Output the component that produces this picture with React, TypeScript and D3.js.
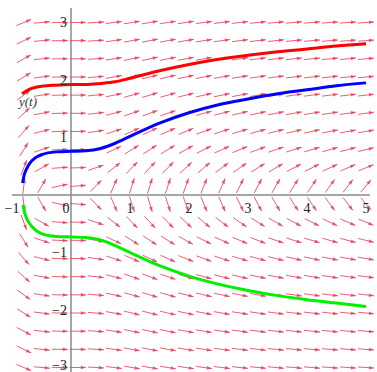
import { useEffect, useRef } from 'react'
import * as d3 from 'd3'

// solution curves: [t, y]
const redCurve: [number, number][] = [
  [-0.83, 1.76], [-0.7, 1.84], [-0.5, 1.89], [-0.25, 1.91], [0, 1.92], [0.25, 1.92],
  [0.5, 1.94], [0.75, 1.97], [1, 2.03], [1.5, 2.16], [2, 2.27], [2.5, 2.36],
  [3, 2.43], [3.5, 2.49], [4, 2.54], [4.5, 2.59], [5, 2.63],
]
const blueCurve: [number, number][] = [
  [-0.82, 0.21], [-0.8, 0.32], [-0.75, 0.46], [-0.7, 0.55], [-0.6, 0.65], [-0.5, 0.7],
  [-0.25, 0.75], [0, 0.76], [0.25, 0.77], [0.5, 0.81], [0.75, 0.9], [1, 1.02],
  [1.5, 1.25], [2, 1.43], [2.5, 1.57], [3, 1.67], [3.5, 1.76], [4, 1.83],
  [4.5, 1.9], [5, 1.95],
]
const greenCurve: [number, number][] = [
  [-0.81, -0.17], [-0.8, -0.24], [-0.75, -0.41], [-0.7, -0.5], [-0.6, -0.61], [-0.5, -0.67],
  [-0.25, -0.72], [0, -0.73], [0.25, -0.74], [0.5, -0.78], [0.75, -0.88], [1, -1.0],
  [1.5, -1.23], [2, -1.41], [2.5, -1.55], [3, -1.66], [3.5, -1.75], [4, -1.82],
  [4.5, -1.88], [5, -1.94],
]

const xTicks = [-1, 0, 1, 2, 3, 4, 5]
const yTicks = [-3, -2, -1, 0, 1, 2, 3]

// direction field of y' = t^2 / (y (1 + t^3)), arrows on a 20 x 20 grid
const fieldT = [-0.8, 5]
const fieldY = [-3, 3]
const gridN = 20
const slope = (t: number, y: number) => (t * t) / (y * (1 + t * t * t))

const W = 377
const H = 372

export default function App() {
  const svgRef = useRef<SVGSVGElement>(null)

  useEffect(() => {
    if (!svgRef.current) return
    const svg = d3.select(svgRef.current)
    svg.selectAll('*').remove()

    const x = d3.scaleLinear().domain([-1, 5]).range([12, 366])
    const y = d3.scaleLinear().domain([-3, 3]).range([367.5, 22.5])

    // axes
    svg.append('line')
      .attr('x1', x(-1)).attr('x2', 370)
      .attr('y1', y(0)).attr('y2', y(0))
      .attr('stroke', '#8a8a8a').attr('stroke-width', 1.5)
    svg.append('line')
      .attr('x1', x(0)).attr('x2', x(0))
      .attr('y1', 8).attr('y2', H)
      .attr('stroke', '#8a8a8a').attr('stroke-width', 1.5)

    // arrows
    const arrowLen = 16
    const fieldG = svg.append('g')
    for (let i = 0; i < gridN; i++) {
      const t = fieldT[0] + (i * (fieldT[1] - fieldT[0])) / (gridN - 1)
      for (let j = 0; j < gridN; j++) {
        const yy = fieldY[0] + (j * (fieldY[1] - fieldY[0])) / (gridN - 1)
        const s = slope(t, yy)
        const dx = x(1) - x(0)
        const dy = y(s) - y(0)
        const len = Math.hypot(dx, dy)
        const ux = dx / len
        const uy = dy / len
        const cx = x(t)
        const cy = y(yy)
        const x1 = cx - (ux * arrowLen) / 2
        const y1 = cy - (uy * arrowLen) / 2
        const x2 = cx + (ux * arrowLen) / 2
        const y2 = cy + (uy * arrowLen) / 2
        fieldG.append('line')
          .attr('x1', x1).attr('y1', y1).attr('x2', x2).attr('y2', y2)
          .attr('stroke', '#e8425a').attr('stroke-width', 1)
          .attr('stroke-opacity', 0.85)
        const hl = 5
        const hw = 1.8
        const bx = x2 - ux * hl
        const by = y2 - uy * hl
        fieldG.append('path')
          .attr('d', `M${x2},${y2}L${bx - uy * hw},${by + ux * hw}L${bx + uy * hw},${by - ux * hw}Z`)
          .attr('fill', '#e8425a').attr('fill-opacity', 0.85)
      }
    }

    // solution curves
    const line = d3.line<[number, number]>()
      .x(d => x(d[0]))
      .y(d => y(d[1]))
      .curve(d3.curveMonotoneX)
    const curves: [[number, number][], string][] = [
      [redCurve, '#ff0000'],
      [blueCurve, '#0000ff'],
      [greenCurve, '#00f000'],
    ]
    curves.forEach(([data, color]) => {
      svg.append('path')
        .datum(data)
        .attr('d', line)
        .attr('fill', 'none')
        .attr('stroke', color)
        .attr('stroke-width', 3)
    })

    // tick labels
    const font = '"Liberation Serif", "DejaVu Serif", serif'
    xTicks.forEach(v => {
      svg.append('text')
        .attr('x', v === 0 ? x(0) - 5 : x(v))
        .attr('y', y(0) + 18)
        .attr('text-anchor', 'middle')
        .attr('font-family', font)
        .attr('font-size', 14)
        .attr('fill', '#222')
        .text(v < 0 ? `\u2212${-v}` : `${v}`)
    })
    yTicks.filter(v => v !== 0).forEach(v => {
      svg.append('text')
        .attr('x', x(0) - 4)
        .attr('y', v === -3 ? y(v) - 2 : y(v))
        .attr('dy', '0.35em')
        .attr('text-anchor', 'end')
        .attr('font-family', font)
        .attr('font-size', 14)
        .attr('fill', '#222')
        .text(v < 0 ? `\u2212${-v}` : `${v}`)
    })

    svg.append('text')
      .attr('x', 19)
      .attr('y', 106)
      .attr('font-family', font)
      .attr('font-style', 'italic')
      .attr('font-size', 13)
      .attr('fill', '#333')
      .text('y(t)')
  }, [])

  return (
    <svg
      ref={svgRef}
      width={W}
      height={H}
      style={{ position: 'absolute', left: 0, top: 0, background: '#fff' }}
    />
  )
}
